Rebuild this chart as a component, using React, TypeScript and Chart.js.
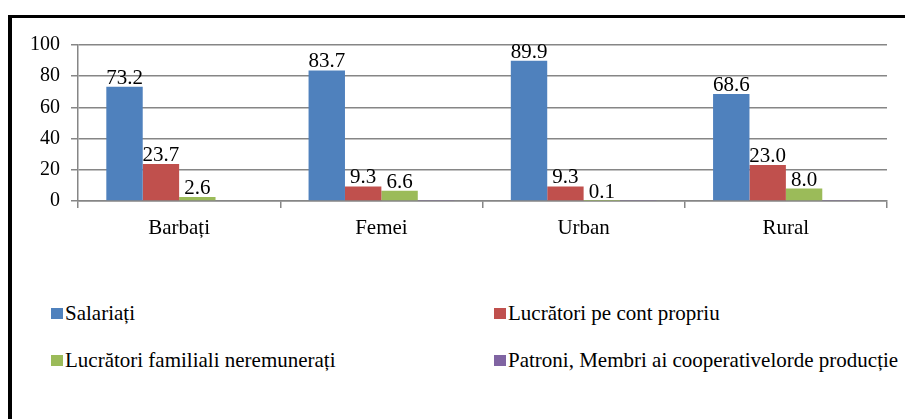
import React, { useEffect, useRef } from "react";
import { Chart, registerables } from "chart.js";

Chart.register(...registerables);

const categories = ["Barbați", "Femei", "Urban", "Rural"];
const seriesNames = [
  "Salariați",
  "Lucrători pe cont propriu",
  "Lucrători familiali neremunerați",
  "Patroni, Membri ai cooperativelorde producție",
];
const salariati = [73.2, 83.7, 89.9, 68.6];
const lucratoriContPropriu = [23.7, 9.3, 9.3, 23.0];
const lucratoriFamiliali = [2.6, 6.6, 0.1, 8.0];
const patroni = [0.5, 0.4, 0.7, 0.4];
const seriesColors = ["#4F81BD", "#C0504D", "#9BBB59", "#8064A2"];
const showValueLabels = [true, true, true, false];
const yMin = 0;
const yMax = 100;
const yStep = 20;

const FONT = "'Liberation Serif', 'Times New Roman', serif";

const valueLabelPlugin = {
  id: "valueLabels",
  afterDatasetsDraw(chart: any) {
    const ctx = chart.ctx;
    ctx.save();
    ctx.font = `21px ${FONT}`;
    ctx.fillStyle = "#000";
    ctx.textAlign = "center";
    ctx.textBaseline = "alphabetic";
    chart.data.datasets.forEach((ds: any, i: number) => {
      if (!showValueLabels[i]) return;
      const meta = chart.getDatasetMeta(i);
      meta.data.forEach((bar: any, j: number) => {
        const v = ds.data[j] as number;
        ctx.fillText(v.toFixed(1), bar.x, bar.y - 3);
      });
    });
    ctx.restore();
  },
};

export default function App() {
  const canvasRef = useRef<HTMLCanvasElement | null>(null);

  useEffect(() => {
    if (!canvasRef.current) return;
    const allSeries = [salariati, lucratoriContPropriu, lucratoriFamiliali, patroni];
    const chart = new Chart(canvasRef.current, {
      type: "bar",
      data: {
        labels: categories,
        datasets: allSeries.map((d, i) => ({
          label: seriesNames[i],
          data: d,
          backgroundColor: seriesColors[i],
          borderWidth: 0,
          categoryPercentage: 0.72,
          barPercentage: 1,
        })),
      },
      options: {
        responsive: false,
        animation: false,
        devicePixelRatio: 1,
        layout: { padding: { top: 45, right: 18, bottom: 9, left: 0 } },
        plugins: {
          legend: { display: false },
          tooltip: { enabled: false },
        },
        scales: {
          x: {
            offset: true,
            grid: {
              display: true,
              drawOnChartArea: false,
              drawTicks: true,
              tickLength: 7,
              color: "#868686",
              lineWidth: 1.5,
            },
            border: { display: true, color: "#868686", width: 1.5 },
            ticks: {
              color: "#000",
              font: { family: FONT, size: 21 },
              padding: 8,
              maxRotation: 0,
            },
            afterFit: (scale: any) => {
              scale.height = 50;
            },
          },
          y: {
            min: yMin,
            max: yMax,
            ticks: {
              stepSize: yStep,
              color: "#000",
              font: { family: FONT, size: 20 },
              padding: 11,
            },
            grid: {
              color: "#868686",
              lineWidth: 1.5,
              tickLength: 7,
            },
            border: { display: true, color: "#868686", width: 1.5 },
            afterFit: (scale: any) => {
              scale.width = 78;
            },
          },
        },
      },
      plugins: [valueLabelPlugin],
    });
    return () => chart.destroy();
  }, []);

  const legendPos = [
    { x: 51, y: 301 },
    { x: 494, y: 301 },
    { x: 51, y: 348 },
    { x: 494, y: 348 },
  ];

  return (
    <div
      style={{
        position: "absolute",
        left: 0,
        top: 0,
        width: 905,
        height: 419,
        overflow: "hidden",
        background: "#fff",
        fontFamily: FONT,
      }}
    >
      <canvas
        ref={canvasRef}
        width={905}
        height={260}
        style={{ position: "absolute", left: 0, top: 0, width: 905, height: 260 }}
      />
      <div style={{ position: "absolute", left: 8, top: 15, width: 897, height: 3, background: "#000" }} />
      <div style={{ position: "absolute", left: 8, top: 15, width: 4, height: 404, background: "#000" }} />
      {seriesNames.map((name, i) => (
        <div
          key={name}
          style={{
            position: "absolute",
            left: legendPos[i].x,
            top: legendPos[i].y,
            height: 24,
            whiteSpace: "nowrap",
            display: "flex",
            alignItems: "center",
          }}
        >
          <span
            style={{
              display: "inline-block",
              width: 12,
              height: 11,
              background: seriesColors[i],
              marginRight: 2,
              marginTop: 1,
            }}
          />
          <span style={{ fontSize: 21, lineHeight: "24px", color: "#000", fontFamily: FONT }}>{name}</span>
        </div>
      ))}
    </div>
  );
}
